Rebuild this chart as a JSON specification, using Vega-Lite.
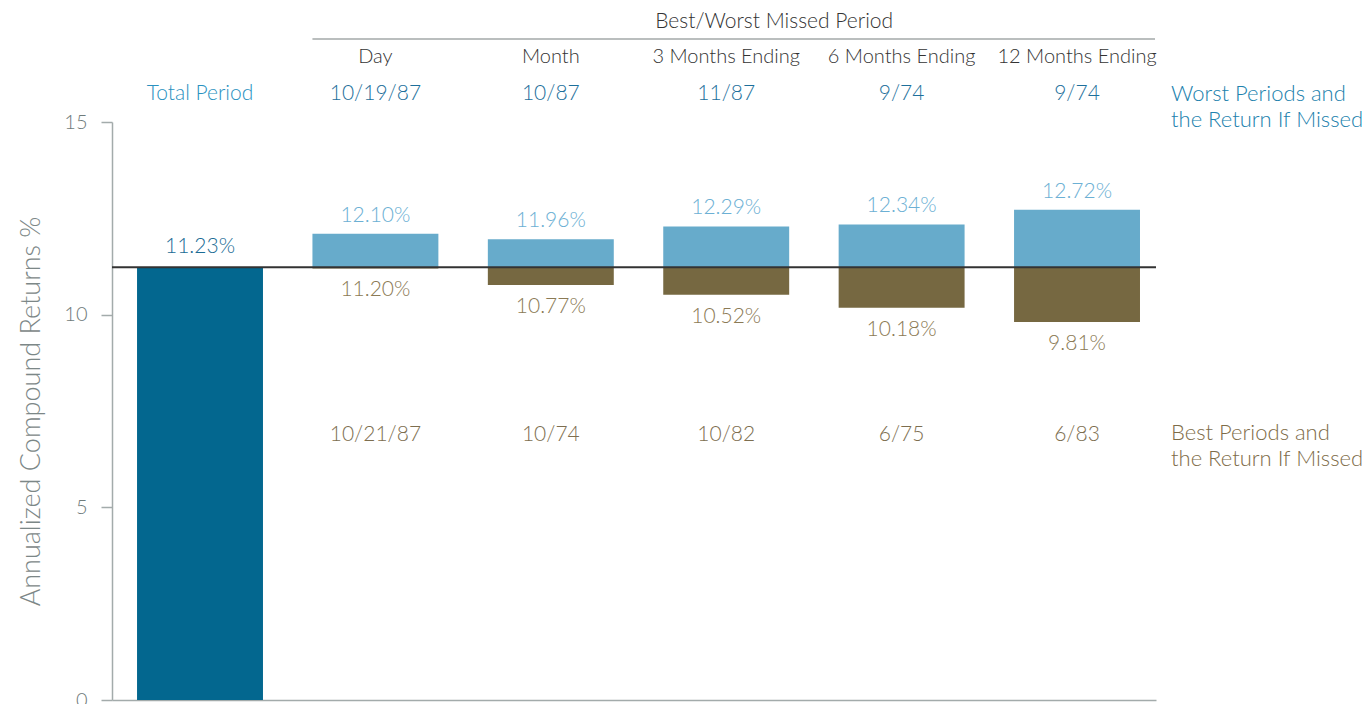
{
  "$schema": "https://vega.github.io/schema/vega-lite/v6.json",
  "width": 1044,
  "height": 578,
  "autosize": {"type": "none"},
  "padding": {"left": 112, "top": 122, "right": 209, "bottom": 4},
  "background": "white",
  "config": {"view": {"stroke": null}, "font": "Lato", "text": {"font": "Lato", "fontWeight": 300}},
  "datasets": {
    "bars": [
      {"period": "Total Period", "kind": "total", "value": 11.23, "base": 0, "label": "11.23%"},
      {"period": "Day", "kind": "worst", "value": 12.10, "base": 11.23, "label": "12.10%"},
      {"period": "Day", "kind": "best", "value": 11.20, "base": 11.23, "label": "11.20%"},
      {"period": "Month", "kind": "worst", "value": 11.96, "base": 11.23, "label": "11.96%"},
      {"period": "Month", "kind": "best", "value": 10.77, "base": 11.23, "label": "10.77%"},
      {"period": "3 Months Ending", "kind": "worst", "value": 12.29, "base": 11.23, "label": "12.29%"},
      {"period": "3 Months Ending", "kind": "best", "value": 10.52, "base": 11.23, "label": "10.52%"},
      {"period": "6 Months Ending", "kind": "worst", "value": 12.34, "base": 11.23, "label": "12.34%"},
      {"period": "6 Months Ending", "kind": "best", "value": 10.18, "base": 11.23, "label": "10.18%"},
      {"period": "12 Months Ending", "kind": "worst", "value": 12.72, "base": 11.23, "label": "12.72%"},
      {"period": "12 Months Ending", "kind": "best", "value": 9.81, "base": 11.23, "label": "9.81%"}
    ],
    "cols": [
      {"period": "Day", "header": "Day", "worstDate": "10/19/87", "bestDate": "10/21/87"},
      {"period": "Month", "header": "Month", "worstDate": "10/87", "bestDate": "10/74"},
      {"period": "3 Months Ending", "header": "3 Months Ending", "worstDate": "11/87", "bestDate": "10/82"},
      {"period": "6 Months Ending", "header": "6 Months Ending", "worstDate": "9/74", "bestDate": "6/75"},
      {"period": "12 Months Ending", "header": "12 Months Ending", "worstDate": "9/74", "bestDate": "6/83"}
    ],
    "totalLabel": [{"period": "Total Period", "label": "Total Period"}],
    "groupTitle": [{"period": "3 Months Ending", "end": "12 Months Ending", "start": "Day", "label": "Best/Worst Missed Period"}],
    "side": [
      {"period": "12 Months Ending", "kind": "worst", "label": "Worst Periods and\nthe Return If Missed"},
      {"period": "12 Months Ending", "kind": "best", "label": "Best Periods and\nthe Return If Missed"}
    ]
  },
  "layer": [
    {
      "data": {"name": "bars"},
      "mark": {"type": "bar"},
      "encoding": {
        "x": {"field": "period", "type": "nominal", "sort": null,
          "scale": {"domain": ["Total Period", "Day", "Month", "3 Months Ending", "6 Months Ending", "12 Months Ending"], "paddingInner": 0.282, "paddingOuter": 0.117, "align": 0.61},
          "axis": {"title": null, "labels": false, "ticks": false, "domain": true, "domainColor": "#a3abab", "domainWidth": 1.5}},
        "y": {"field": "value", "type": "quantitative",
          "scale": {"domain": [0, 15], "nice": false, "zero": true},
          "axis": {"values": [0, 5, 10, 15], "grid": false, "title": "Annualized Compound Returns %", "titleFont": "Lato", "titleFontSize": 27, "titleFontWeight": 300, "titleColor": "#7c8787", "titlePadding": 18, "labelFont": "Lato", "labelFontWeight": 300, "labelFontSize": 20, "labelColor": "#6f7b7b", "labelPadding": 14, "tickSize": 11, "tickColor": "#a3abab", "domainColor": "#a3abab", "domainWidth": 1.5, "tickWidth": 1.5}},
        "y2": {"field": "base"},
        "color": {"field": "kind", "type": "nominal", "scale": {"domain": ["total", "worst", "best"], "range": ["#03678f", "#67abcb", "#766841"]}, "legend": null}
      }
    },
    {
      "data": {"name": "bars"},
      "transform": [{"filter": "datum.kind === 'total'"}],
      "mark": {"type": "rule", "color": "#333333", "strokeWidth": 2},
      "encoding": {
        "y": {"field": "value", "type": "quantitative", "scale": {"domain": [0, 15], "nice": false, "zero": true}}
      }
    },
    {
      "data": {"name": "bars"},
      "transform": [{"filter": "datum.kind === 'total'"}],
      "mark": {"type": "text", "baseline": "bottom", "dy": -10, "fontSize": 21, "color": "#1b6c95"},
      "encoding": {
        "x": {"field": "period", "type": "nominal", "sort": null, "scale": {"domain": ["Total Period", "Day", "Month", "3 Months Ending", "6 Months Ending", "12 Months Ending"], "paddingInner": 0.282, "paddingOuter": 0.117, "align": 0.61}},
        "y": {"field": "value", "type": "quantitative", "scale": {"domain": [0, 15], "nice": false, "zero": true}},
        "text": {"field": "label"}
      }
    },
    {
      "data": {"name": "bars"},
      "transform": [{"filter": "datum.kind === 'worst'"}],
      "mark": {"type": "text", "baseline": "bottom", "dy": -8, "fontSize": 21, "color": "#6cb0d4"},
      "encoding": {
        "x": {"field": "period", "type": "nominal", "sort": null, "scale": {"domain": ["Total Period", "Day", "Month", "3 Months Ending", "6 Months Ending", "12 Months Ending"], "paddingInner": 0.282, "paddingOuter": 0.117, "align": 0.61}},
        "y": {"field": "value", "type": "quantitative", "scale": {"domain": [0, 15], "nice": false, "zero": true}},
        "text": {"field": "label"}
      }
    },
    {
      "data": {"name": "bars"},
      "transform": [{"filter": "datum.kind === 'best'"}],
      "mark": {"type": "text", "baseline": "top", "dy": 11, "fontSize": 21, "color": "#8b7a55"},
      "encoding": {
        "x": {"field": "period", "type": "nominal", "sort": null, "scale": {"domain": ["Total Period", "Day", "Month", "3 Months Ending", "6 Months Ending", "12 Months Ending"], "paddingInner": 0.282, "paddingOuter": 0.117, "align": 0.61}},
        "y": {"field": "value", "type": "quantitative", "scale": {"domain": [0, 15], "nice": false, "zero": true}},
        "text": {"field": "label"}
      }
    },
    {
      "data": {"name": "cols"},
      "mark": {"type": "text", "baseline": "middle", "fontSize": 20, "color": "#333333"},
      "encoding": {
        "x": {"field": "period", "type": "nominal", "sort": null, "scale": {"domain": ["Total Period", "Day", "Month", "3 Months Ending", "6 Months Ending", "12 Months Ending"], "paddingInner": 0.282, "paddingOuter": 0.117, "align": 0.61}},
        "y": {"datum": 16.687, "type": "quantitative", "scale": {"domain": [0, 15], "nice": false, "zero": true}},
        "text": {"field": "header"}
      }
    },
    {
      "data": {"name": "cols"},
      "mark": {"type": "text", "baseline": "middle", "fontSize": 21, "color": "#1d6f9b"},
      "encoding": {
        "x": {"field": "period", "type": "nominal", "sort": null, "scale": {"domain": ["Total Period", "Day", "Month", "3 Months Ending", "6 Months Ending", "12 Months Ending"], "paddingInner": 0.282, "paddingOuter": 0.117, "align": 0.61}},
        "y": {"datum": 15.727, "type": "quantitative", "scale": {"domain": [0, 15], "nice": false, "zero": true}},
        "text": {"field": "worstDate"}
      }
    },
    {
      "data": {"name": "cols"},
      "mark": {"type": "text", "baseline": "middle", "fontSize": 21, "color": "#7d6e4f"},
      "encoding": {
        "x": {"field": "period", "type": "nominal", "sort": null, "scale": {"domain": ["Total Period", "Day", "Month", "3 Months Ending", "6 Months Ending", "12 Months Ending"], "paddingInner": 0.282, "paddingOuter": 0.117, "align": 0.61}},
        "y": {"datum": 6.877, "type": "quantitative", "scale": {"domain": [0, 15], "nice": false, "zero": true}},
        "text": {"field": "bestDate"}
      }
    },
    {
      "data": {"name": "totalLabel"},
      "mark": {"type": "text", "baseline": "middle", "fontSize": 21, "color": "#2a91bf"},
      "encoding": {
        "x": {"field": "period", "type": "nominal", "sort": null, "scale": {"domain": ["Total Period", "Day", "Month", "3 Months Ending", "6 Months Ending", "12 Months Ending"], "paddingInner": 0.282, "paddingOuter": 0.117, "align": 0.61}},
        "y": {"datum": 15.727, "type": "quantitative", "scale": {"domain": [0, 15], "nice": false, "zero": true}},
        "text": {"field": "label"}
      }
    },
    {
      "data": {"name": "groupTitle"},
      "mark": {"type": "text", "baseline": "middle", "fontSize": 21, "color": "#333333", "dx": -15},
      "encoding": {
        "x": {"field": "period", "type": "nominal", "sort": null, "bandPosition": 1, "scale": {"domain": ["Total Period", "Day", "Month", "3 Months Ending", "6 Months Ending", "12 Months Ending"], "paddingInner": 0.282, "paddingOuter": 0.117, "align": 0.61}},
        "y": {"datum": 17.595, "type": "quantitative", "scale": {"domain": [0, 15], "nice": false, "zero": true}},
        "text": {"field": "label"}
      }
    },
    {
      "data": {"name": "groupTitle"},
      "mark": {"type": "rule", "color": "#a3a8a8", "strokeWidth": 1.5, "x2Offset": 15},
      "encoding": {
        "x": {"field": "start", "type": "nominal", "sort": null, "bandPosition": 0, "scale": {"domain": ["Total Period", "Day", "Month", "3 Months Ending", "6 Months Ending", "12 Months Ending"], "paddingInner": 0.282, "paddingOuter": 0.117, "align": 0.61}},
        "x2": {"field": "end", "bandPosition": 1},
        "y": {"datum": 17.154, "type": "quantitative", "scale": {"domain": [0, 15], "nice": false, "zero": true}}
      }
    },
    {
      "data": {"name": "side"},
      "transform": [{"filter": "datum.kind === 'worst'"}],
      "mark": {"type": "text", "align": "left", "baseline": "middle", "fontSize": 22, "lineHeight": 26, "lineBreak": "\n", "color": "#2181ad", "dx": 31},
      "encoding": {
        "x": {"field": "period", "type": "nominal", "sort": null, "bandPosition": 1, "scale": {"domain": ["Total Period", "Day", "Month", "3 Months Ending", "6 Months Ending", "12 Months Ending"], "paddingInner": 0.282, "paddingOuter": 0.117, "align": 0.61}},
        "y": {"datum": 15.727, "type": "quantitative", "scale": {"domain": [0, 15], "nice": false, "zero": true}},
        "text": {"field": "label"}
      }
    },
    {
      "data": {"name": "side"},
      "transform": [{"filter": "datum.kind === 'best'"}],
      "mark": {"type": "text", "align": "left", "baseline": "middle", "fontSize": 22, "lineHeight": 26, "lineBreak": "\n", "color": "#7e6c48", "dx": 31},
      "encoding": {
        "x": {"field": "period", "type": "nominal", "sort": null, "bandPosition": 1, "scale": {"domain": ["Total Period", "Day", "Month", "3 Months Ending", "6 Months Ending", "12 Months Ending"], "paddingInner": 0.282, "paddingOuter": 0.117, "align": 0.61}},
        "y": {"datum": 6.93, "type": "quantitative", "scale": {"domain": [0, 15], "nice": false, "zero": true}},
        "text": {"field": "label"}
      }
    }
  ]
}
